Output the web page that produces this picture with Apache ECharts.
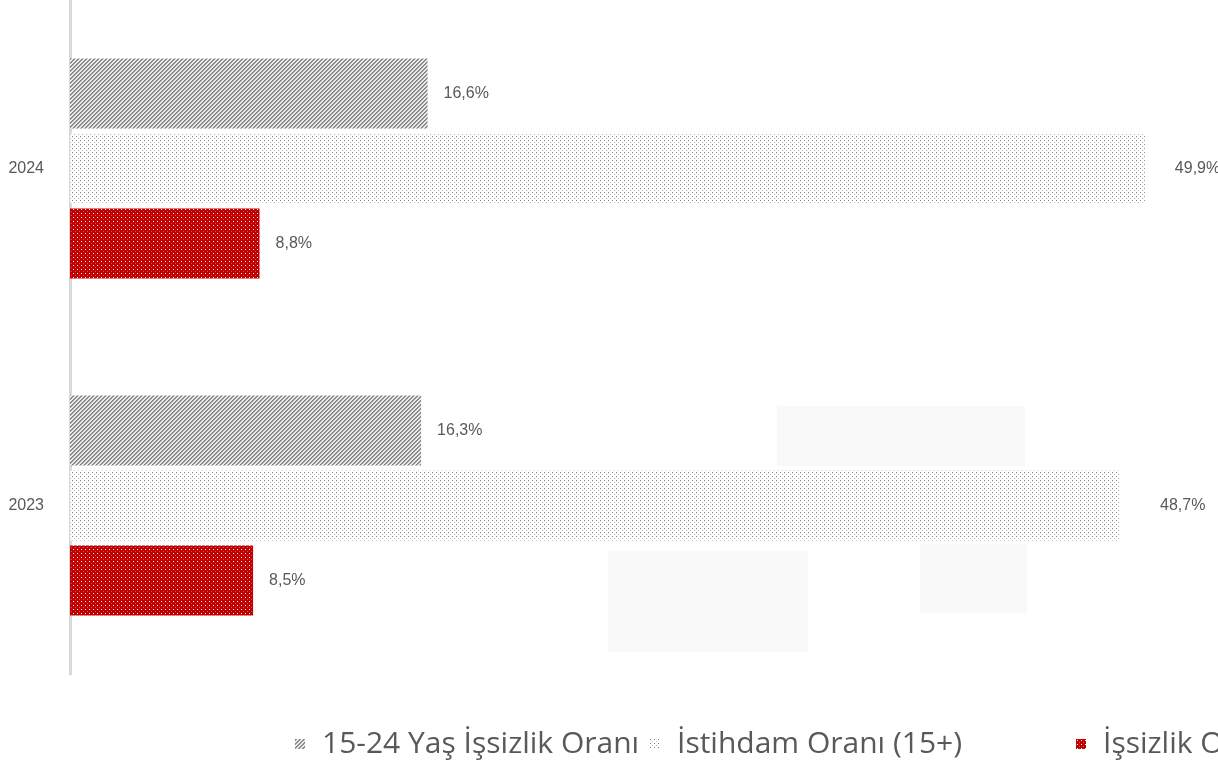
<!DOCTYPE html>
<html><head><meta charset="utf-8">
<script src="https://cdn.jsdelivr.net/npm/echarts@6/dist/echarts.min.js"></script>
<style>html,body{margin:0;padding:0;background:#fff}#c{width:1218px;height:770px}</style>
</head><body><div id="c"></div>
<script>
// ---- data ----
const categories = ['2023', '2024'];
const seriesNames = ['15-24 Yaş İşsizlik Oranı', 'İstihdam Oranı (15+)', 'İşsizlik Oranı'];
const youthUnemployment = [16.3, 16.6];
const employmentRate = [48.7, 49.9];
const unemploymentRate = [8.5, 8.8];

// ---- patterns ----
function tile(w, h, bg, pixels) {
  const c = document.createElement('canvas');
  c.width = w; c.height = h;
  const ctx = c.getContext('2d');
  if (bg) { ctx.fillStyle = bg; ctx.fillRect(0, 0, w, h); }
  pixels.forEach(p => { ctx.fillStyle = p[2]; ctx.fillRect(p[0], p[1], 1, 1); });
  return c;
}
const hatchPx = [];
for (let y = 0; y < 4; y++) for (let x = 0; x < 4; x++) {
  const m = (x + y) % 4;
  if (m === 0) hatchPx.push([x, y, '#808080']);
  else if (m === 1) hatchPx.push([x, y, '#999999']);
}
const hatch = tile(4, 4, '#ebebeb', hatchPx);
const dots = tile(4, 4, '#ffffff', [[0, 0, '#7f7f7f'], [2, 2, '#b3b3b3']]);
const red = tile(4, 4, '#c00000', [[1, 1, '#ffffff'], [3, 3, '#d85050']]);

const labelFont = { fontFamily: 'Liberation Sans, Arial, sans-serif', fontSize: 16, color: '#595959' };
const fmt = p => p.value.toFixed(1).replace('.', ',') + '%';
const midLabelDist = [41, 30];
const legendText = { fontFamily: 'Open Sans', fontSize: 30, color: '#595959', padding: [0, 0, 0, 12] };

const chart = echarts.init(document.getElementById('c'), null, { renderer: 'canvas' });
chart.setOption({
  animation: false,
  backgroundColor: '#ffffff',
  grid: { left: 70, right: 71, top: 0, bottom: 96, containLabel: false },
  xAxis: { type: 'value', min: 0, max: 50, show: false },
  yAxis: {
    type: 'category', data: categories,
    axisLine: { show: true, lineStyle: { color: '#d9d9d9', width: 3 } },
    axisTick: { show: false },
    axisLabel: Object.assign({ margin: 26 }, labelFont),
    splitLine: { show: false }
  },
  legend: [
    { data: [seriesNames[0]], left: 295, top: 729, padding: 0, itemWidth: 10, itemHeight: 10, icon: 'rect', textStyle: legendText },
    { data: [seriesNames[1]], left: 650, top: 729, padding: 0, itemWidth: 10, itemHeight: 10, icon: 'rect', textStyle: legendText },
    { data: [seriesNames[2]], left: 1076, top: 729, padding: 0, itemWidth: 10, itemHeight: 10, icon: 'rect', textStyle: legendText }
  ],
  graphic: [
    { type: 'rect', z: -1, shape: { x: 777, y: 406, width: 248, height: 60 }, style: { fill: '#f9f9f9' } },
    { type: 'rect', z: -1, shape: { x: 920, y: 544, width: 107, height: 69 }, style: { fill: '#f9f9f9' } },
    { type: 'rect', z: -1, shape: { x: 608, y: 551, width: 200, height: 101 }, style: { fill: '#f9f9f9' } }
  ],
  series: [
    { name: seriesNames[0], type: 'bar', data: youthUnemployment, barWidth: 70, barGap: '7%',
      itemStyle: { color: { image: hatch, repeat: 'repeat' } },
      label: Object.assign({ show: true, position: 'right', distance: 16, formatter: fmt }, labelFont) },
    { name: seriesNames[1], type: 'bar', barWidth: 70, barGap: '7%',
      data: employmentRate.map((v, i) => ({ value: v, label: { distance: midLabelDist[i] } })),
      itemStyle: { color: { image: dots, repeat: 'repeat' } },
      label: Object.assign({ show: true, position: 'right', distance: 30, formatter: fmt }, labelFont) },
    { name: seriesNames[2], type: 'bar', data: unemploymentRate, barWidth: 70, barGap: '7%',
      itemStyle: { color: { image: red, repeat: 'repeat' } },
      label: Object.assign({ show: true, position: 'right', distance: 16, formatter: fmt }, labelFont) }
  ]
});
</script></body></html>
